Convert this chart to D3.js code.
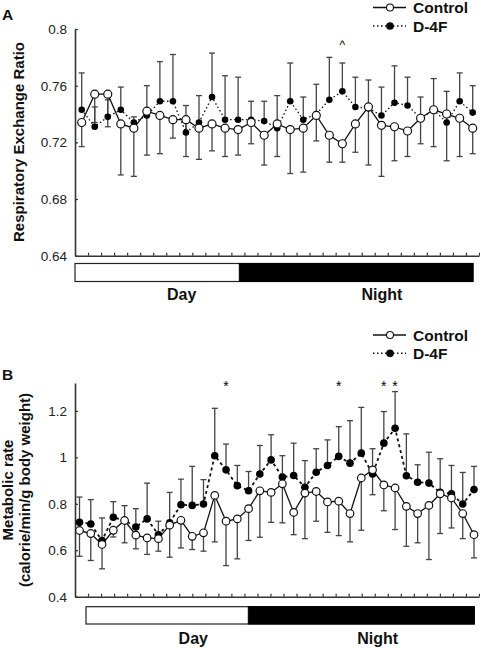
<!DOCTYPE html>
<html><head><meta charset="utf-8">
<script src="https://cdn.jsdelivr.net/npm/d3@7"></script>
<style>body{margin:0;background:#fff} svg{display:block;font-family:"Liberation Sans",Arial,sans-serif}</style>
</head><body><svg id="c" width="480" height="648"></svg>
<script>
// ---------- DATA ----------
const seriesNames = ["Control", "D-4F"];
const periods = ["Day", "Night"];

// Panel A: Respiratory exchange ratio (31 time points)
const hoursA = d3.range(31);
const rerControl    = [0.734,0.754,0.754,0.733,0.730,0.742,0.739,0.736,0.736,0.730,0.733,0.730,0.729,0.734,0.725,0.733,0.729,0.730,0.739,0.725,0.719,0.733,0.745,0.732,0.731,0.728,0.737,0.743,0.740,0.737,0.730];
const rerControlErr = [0.017,0.020,0.023,0.036,0.034,0.031,0.027,0.013,0.026,0.022,0.019,0.020,0.018,0.015,0.021,0.023,0.031,0.031,0.018,0.019,0.013,0.020,0.041,0.036,0.024,0.018,0.018,0.026,0.033,0.027,0.018];
const rerD4F        = [0.743,0.731,0.738,0.743,0.734,0.739,0.749,0.749,0.727,0.734,0.752,0.736,0.736,0.736,0.735,0.730,0.749,0.736,0.740,0.750,0.756,0.745,0.744,0.739,0.748,0.746,0.737,0.743,0.734,0.749,0.741];
const rerD4FErr     = [0.026,0.014,0.012,0.016,0.004,0.021,0.028,0.033,0.019,0.019,0.031,0.031,0.030,0.013,0.014,0.023,0.027,0.016,0.021,0.030,0.020,0.021,0.020,0.020,0.026,0.020,0.015,0.022,0.022,0.020,0.019];
const rerTicks = [0.64, 0.68, 0.72, 0.76, 0.8];
const rerMarks = [20];          // "^" marks

// Panel B: Metabolic rate (36 time points)
const hoursB = d3.range(36);
const mrControl    = [0.685,0.672,0.625,0.686,0.728,0.665,0.653,0.650,0.708,0.729,0.660,0.675,0.836,0.725,0.735,0.779,0.856,0.849,0.886,0.763,0.846,0.853,0.808,0.811,0.758,0.911,0.946,0.881,0.868,0.789,0.758,0.793,0.843,0.825,0.758,0.667];
const mrControlErr = [0.111,0.116,0.105,0.029,0.096,0.059,0.071,0.054,0.138,0.119,0.057,0.079,0.200,0.191,0.172,0.137,0.200,0.129,0.168,0.096,0.196,0.128,0.131,0.148,0.122,0.225,0.107,0.111,0.179,0.172,0.126,0.233,0.171,0.129,0.108,0.100];
const mrD4F        = [0.720,0.713,0.642,0.742,0.728,0.700,0.735,0.667,0.718,0.796,0.793,0.799,1.007,0.946,0.878,0.856,0.928,0.989,0.915,0.922,0.871,0.936,0.965,1.004,0.975,1.018,0.928,1.061,1.125,0.921,0.893,0.889,0.849,0.843,0.799,0.861];
const mrD4FErr     = [0.109,0.105,0.097,0.067,0.064,0.079,0.154,0.058,0.131,0.110,0.168,0.105,0.204,0.111,0.087,0.083,0.123,0.108,0.092,0.139,0.115,0.101,0.110,0.128,0.183,0.197,0.109,0.136,0.158,0.180,0.075,0.133,0.145,0.122,0.136,0.100];
const mrTicks = [0.4, 0.6, 0.8, 1, 1.2];
const mrMarks = [13, 23, 27, 28];   // "*" marks

const xTickValues = d3.range(1, 32);

// ---------- DRAW ----------
const svg = d3.select("#c");
const FONT = '"Liberation Sans",Arial,sans-serif';

function panel(cfg) {
  const g = svg.append("g");
  const x = d3.scalePoint().domain(cfg.hours).range(cfg.xRange);
  const y = d3.scaleLinear().domain(cfg.yDomain).range(cfg.yRange);
  const xt = d3.scaleLinear().domain([0, 31]).range([75, 479]);

  // axes
  const ya = g.append("g").attr("transform", "translate(75,0)")
    .call(d3.axisLeft(y).tickValues(cfg.ticks).tickSize(-3).tickSizeOuter(0).tickPadding(8)
      .tickFormat(d => d3.format("~g")(d)));
  const xa = g.append("g").attr("transform", `translate(0,${cfg.yRange[0]})`)
    .call(d3.axisBottom(xt).tickValues(xTickValues).tickSize(-3).tickSizeOuter(0).tickFormat(""));
  [ya, xa].forEach(a => {
    a.select(".domain").attr("stroke", "#333").attr("stroke-width", 1.6);
    a.selectAll(".tick line").attr("stroke", "#333").attr("stroke-width", 1.2);
    a.selectAll(".tick text").attr("font-size", 13.5).attr("font-family", FONT).attr("fill", "#222");
  });

  // y title
  const tg = g.append("g");
  cfg.title.forEach((t, k) => {
    tg.append("text").attr("transform", `translate(${t.x},${cfg.titleY}) rotate(-90)`)
      .attr("text-anchor", "middle").attr("font-weight", "bold").attr("font-size", cfg.titleSize)
      .attr("fill", "#111").text(t.text);
  });

  // panel label
  g.append("text").attr("x", 2).attr("y", cfg.labelY).attr("font-weight", "bold")
    .attr("font-size", 15.5).attr("fill", "#111").text(cfg.label);

  const C = cfg.hours.map(i => ({i, v: cfg.c[i], e: cfg.ce[i]}));
  const D = cfg.hours.map(i => ({i, v: cfg.d[i], e: cfg.de[i]}));
  const line = d3.line().x(d => x(d.i)).y(d => y(d.v));

  // error bars: control downward, D-4F upward
  const eb = g.append("g").attr("stroke", "#444").attr("stroke-width", 1.3).attr("fill", "none");
  function bars(data, sign) {
    data.forEach(d => {
      const x0 = x(d.i), y0 = y(d.v), y1 = y(d.v + sign * d.e);
      eb.append("line").attr("x1", x0).attr("x2", x0).attr("y1", y0).attr("y2", y1);
      eb.append("line").attr("x1", x0 - 3).attr("x2", x0 + 3).attr("y1", y1).attr("y2", y1);
    });
  }
  bars(D, 1);
  bars(C, -1);

  g.append("path").datum(D).attr("d", line).attr("fill", "none").attr("stroke", "#111")
    .attr("stroke-width", cfg.dashW).attr("stroke-dasharray", cfg.dash);
  g.append("path").datum(C).attr("d", line).attr("fill", "none").attr("stroke", "#111")
    .attr("stroke-width", 1.3);

  g.selectAll(".dd").data(D).join("circle").attr("cx", d => x(d.i)).attr("cy", d => y(d.v))
    .attr("r", cfg.rD).attr("fill", "#000");
  g.selectAll(".cc").data(C).join("circle").attr("cx", d => x(d.i)).attr("cy", d => y(d.v))
    .attr("r", cfg.rC).attr("fill", "#fff").attr("stroke", "#111").attr("stroke-width", 1.2);

  // significance marks
  cfg.marks.forEach(i => {
    g.append("text").attr("x", x(i)).attr("y", cfg.markY).attr("text-anchor", "middle")
      .attr("font-size", cfg.markSize).attr("fill", "#000").text(cfg.markSym);
  });

  // legend
  const lg = g.append("g");
  seriesNames.forEach((name, k) => {
    const ly = cfg.legendY[k];
    lg.append("line").attr("x1", 373).attr("x2", 406).attr("y1", ly).attr("y2", ly)
      .attr("stroke", "#111").attr("stroke-width", k ? 1.4 : 1.3)
      .attr("stroke-dasharray", k ? "1.5,2.5" : null);
    lg.append("circle").attr("cx", 390).attr("cy", ly).attr("r", k ? 3.3 : 3.5)
      .attr("fill", k ? "#000" : "#fff").attr("stroke", "#111").attr("stroke-width", 1.1);
    lg.append("text").attr("x", 413).attr("y", ly + 5.5).attr("font-weight", "bold")
      .attr("font-size", 15.5).attr("fill", "#111").text(name);
  });

  // day / night bar
  const b = cfg.bar;
  g.append("rect").attr("x", b.x0).attr("y", b.y).attr("width", b.x1 - b.x0).attr("height", b.h)
    .attr("fill", "#fff").attr("stroke", "#222").attr("stroke-width", 1.2);
  g.append("rect").attr("x", b.xm).attr("y", b.y).attr("width", b.x1 - b.xm).attr("height", b.h)
    .attr("fill", "#000").attr("stroke", "#000").attr("stroke-width", 1);
  periods.forEach((p, k) => {
    g.append("text").attr("x", b.labels[k]).attr("y", b.labelY).attr("text-anchor", "middle")
      .attr("font-weight", "bold").attr("font-size", 16).attr("fill", "#111").text(p);
  });
}

panel({
  hours: hoursA, c: rerControl, ce: rerControlErr, d: rerD4F, de: rerD4FErr,
  xRange: [81.7, 472.7], yDomain: [0.64, 0.8], yRange: [255.7, 29], ticks: rerTicks,
  title: [{x: 24, text: "Respiratory Exchange Ratio"}], titleY: 142, titleSize: 15,
  label: "A", labelY: 20, dash: "1.5,2.5", dashW: 1.3, rD: 3.3, rC: 4,
  marks: rerMarks, markY: 49, markSize: 12, markSym: "^",
  legendY: [7.5, 26],
  bar: {x0: 75, x1: 473, xm: 239.3, y: 263.5, h: 18, labels: [181.7, 382], labelY: 300}
});

panel({
  hours: hoursB, c: mrControl, ce: mrControlErr, d: mrD4F, de: mrD4FErr,
  xRange: [79.5, 474], yDomain: [0.4, 1.32], yRange: [596.7, 383], ticks: mrTicks,
  title: [{x: 13, text: "Metabolic rate"}, {x: 30, text: "(calorie/min/g body weight)"}], titleY: 490, titleSize: 15,
  label: "B", labelY: 379.5, dash: "3,3", dashW: 1.8, rD: 3.8, rC: 3.8,
  marks: mrMarks, markY: 391, markSize: 14, markSym: "*",
  legendY: [335, 353.3],
  bar: {x0: 86, x1: 474.3, xm: 248.3, y: 606.7, h: 17.3, labels: [193.3, 377.7], labelY: 644}
});
</script></body></html>
